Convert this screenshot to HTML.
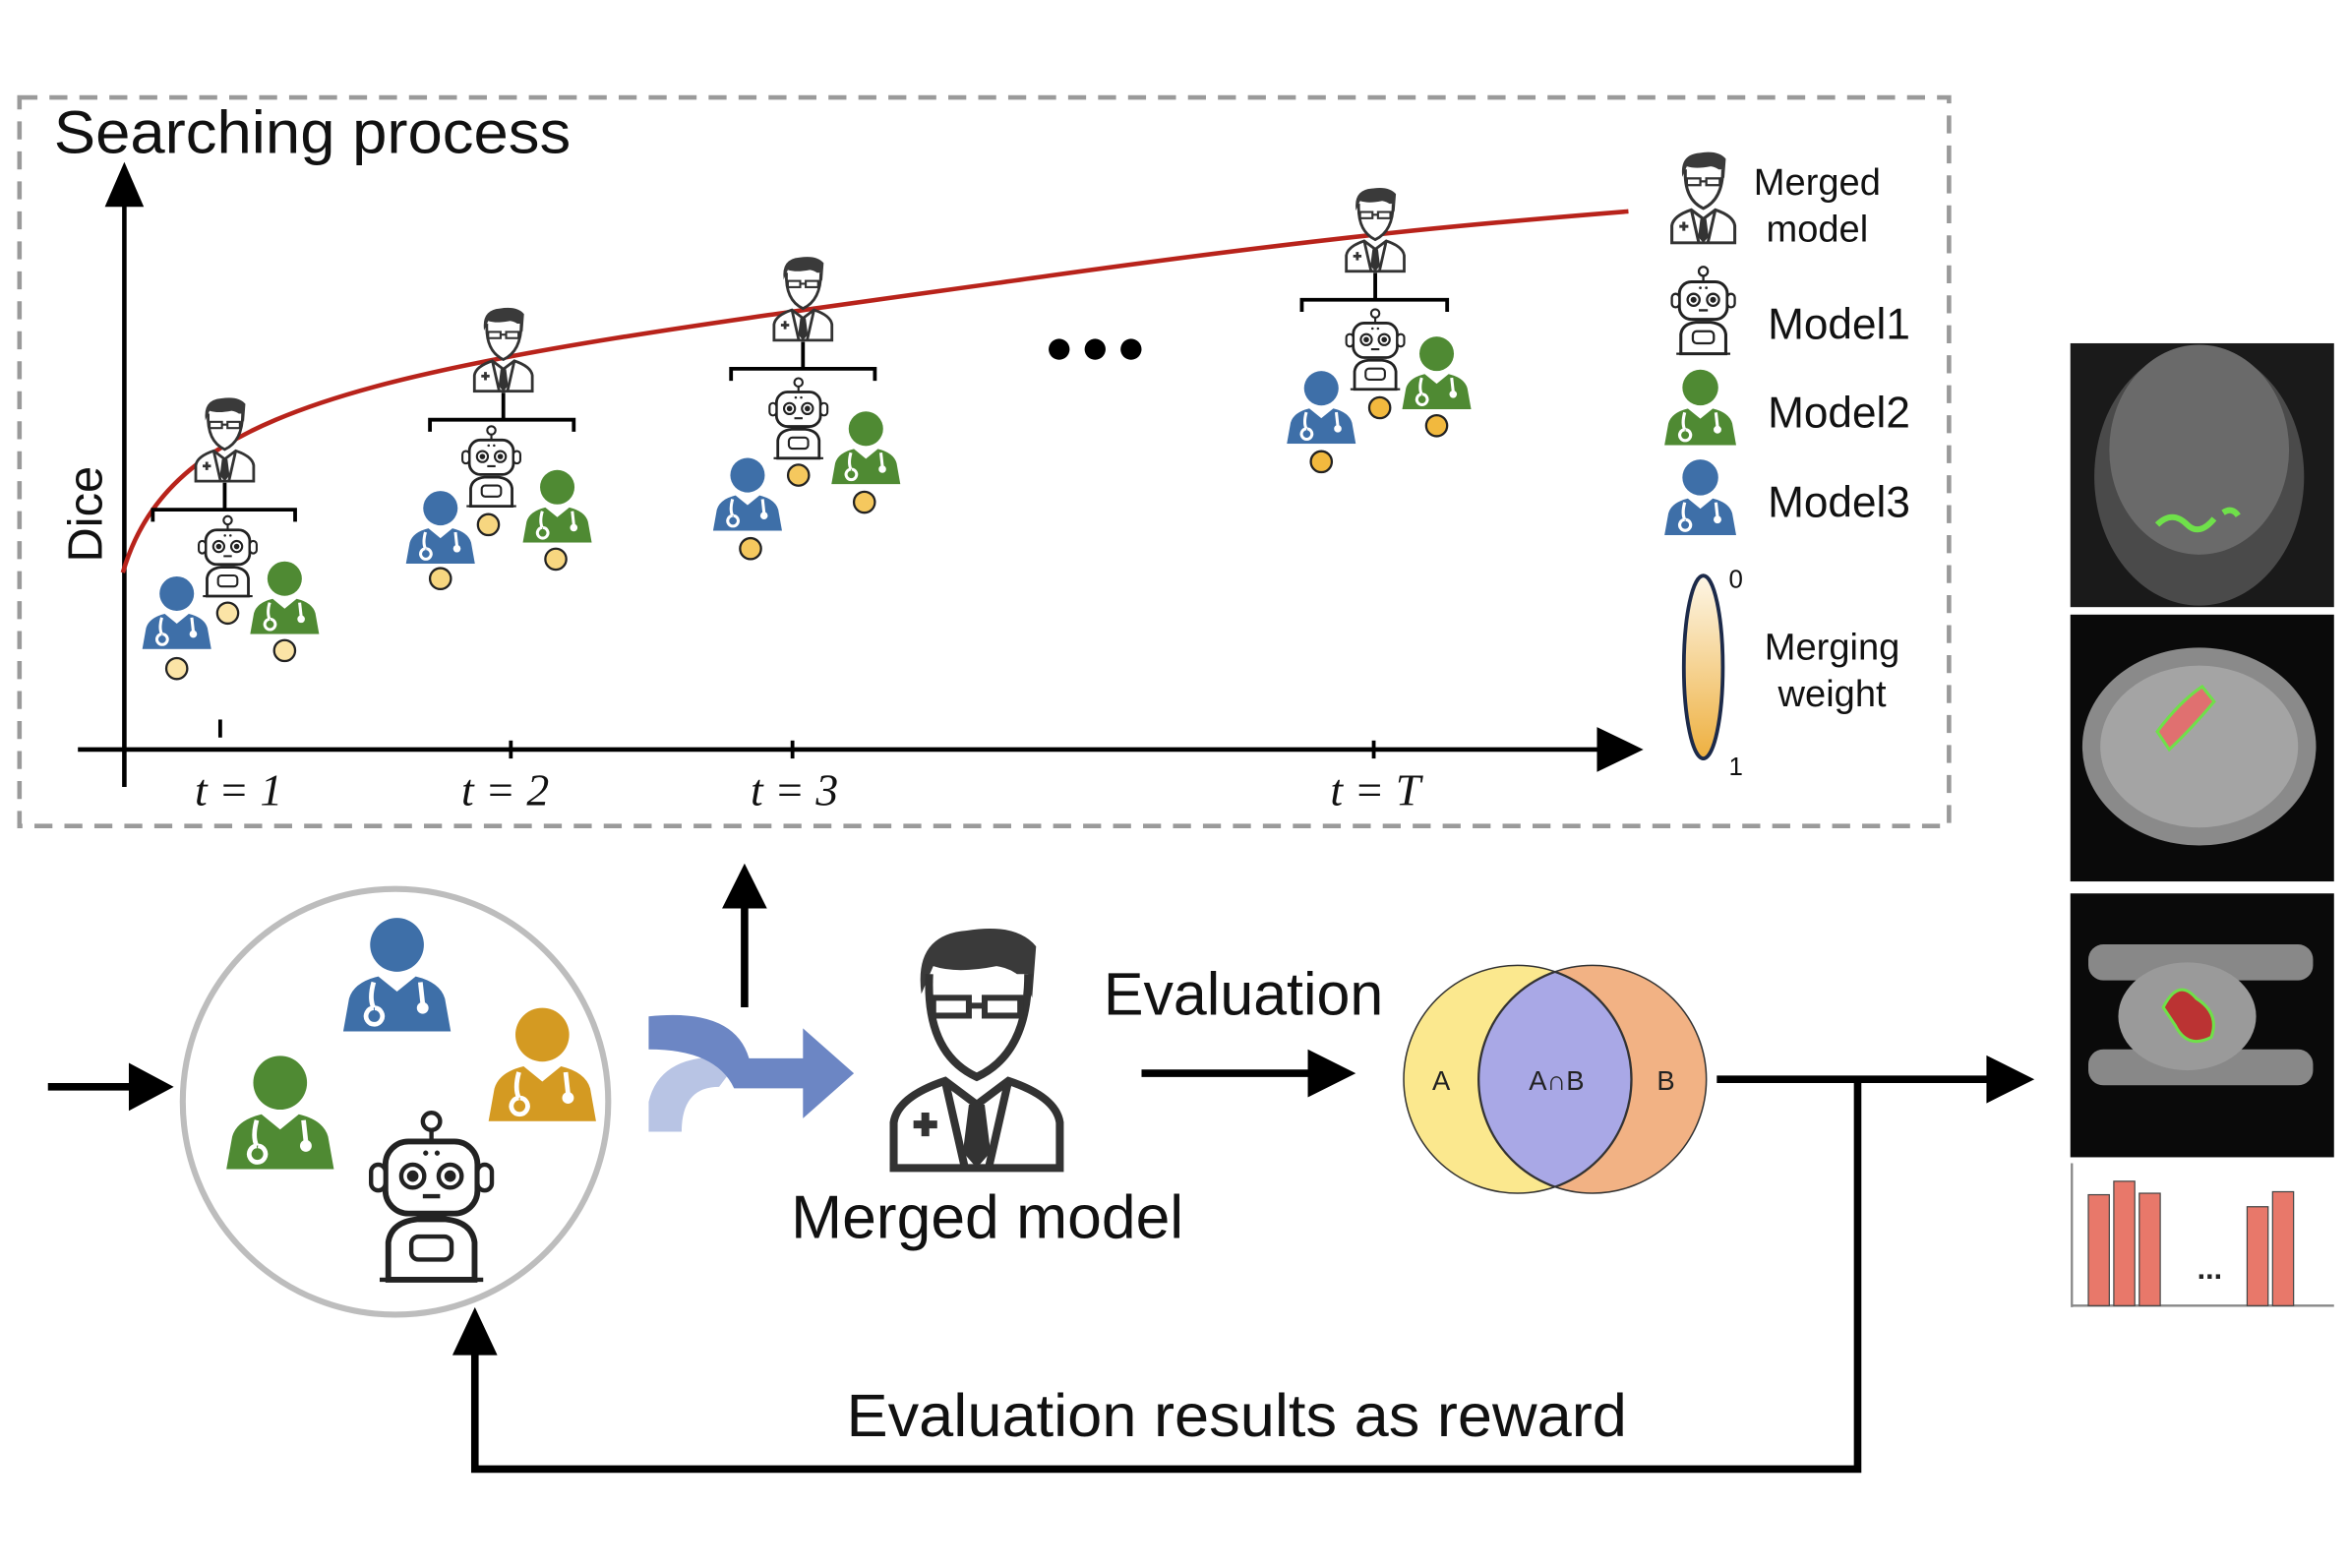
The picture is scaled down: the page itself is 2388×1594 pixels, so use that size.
<!DOCTYPE html>
<html><head><meta charset="utf-8"><style>
html,body{margin:0;padding:0;background:#fff;}
svg{display:block;}
</style></head><body>
<svg width="2388" height="1594" viewBox="0 0 1568 1046" preserveAspectRatio="none" xmlns="http://www.w3.org/2000/svg" font-family="Liberation Sans, sans-serif">
<defs>
<symbol id="person" viewBox="0 0 100 100">
<circle cx="50" cy="26" r="23" fill="currentColor"/>
<path d="M4,100 L9,72 Q13,58 34,53 L50,66 L66,53 Q87,58 91,72 L96,100 Z" fill="currentColor"/>
<path d="M30,58 Q26,72 30,80 M30,80 a7,7 0 1,0 1,0" stroke="#fff" stroke-width="4" fill="none"/>
<path d="M70,58 L72,76" stroke="#fff" stroke-width="4" fill="none"/>
<circle cx="72" cy="80" r="5" fill="#fff"/>
</symbol>
<symbol id="doc" viewBox="0 0 100 130">
<path d="M22,40 Q18,10 45,8 Q70,4 80,16 L78,42 Q74,28 60,26 Q40,30 28,26 Z" fill="#3a3a3a"/>
<path d="M26,30 Q24,70 50,82 Q76,70 76,30" fill="#fff" stroke="#333" stroke-width="4"/>
<rect x="28" y="42" width="18" height="9" fill="none" stroke="#333" stroke-width="3"/>
<rect x="54" y="42" width="18" height="9" fill="none" stroke="#333" stroke-width="3"/>
<line x1="46" y1="46" x2="54" y2="46" stroke="#333" stroke-width="3"/>
<path d="M8,128 L8,105 Q10,92 34,84 L50,96 L66,84 Q90,92 92,105 L92,128 Z" fill="#fff" stroke="#333" stroke-width="4"/>
<path d="M34,84 L44,128 M66,84 L56,128" stroke="#333" stroke-width="4"/>
<path d="M46,96 L54,96 L57,120 L50,128 L43,120 Z" fill="#333"/>
<path d="M18,106 h12 M24,100 v12" stroke="#333" stroke-width="4"/>
</symbol>
<symbol id="robot" viewBox="0 0 100 120">
<circle cx="50" cy="8" r="6" fill="#fff" stroke="#222" stroke-width="3"/>
<line x1="50" y1="14" x2="50" y2="22" stroke="#222" stroke-width="3"/>
<rect x="18" y="22" width="64" height="50" rx="16" fill="#fff" stroke="#222" stroke-width="4"/>
<rect x="8" y="38" width="10" height="18" rx="5" fill="#fff" stroke="#222" stroke-width="3"/>
<rect x="82" y="38" width="10" height="18" rx="5" fill="#fff" stroke="#222" stroke-width="3"/>
<circle cx="37" cy="46" r="8" fill="#fff" stroke="#222" stroke-width="3"/><circle cx="37" cy="46" r="4" fill="#222"/>
<circle cx="63" cy="46" r="8" fill="#fff" stroke="#222" stroke-width="3"/><circle cx="63" cy="46" r="4" fill="#222"/>
<line x1="44" y1="60" x2="56" y2="60" stroke="#222" stroke-width="3"/>
<circle cx="46" cy="30" r="1.8" fill="#222"/><circle cx="54" cy="30" r="1.8" fill="#222"/>
<path d="M20,118 L20,92 Q22,78 40,76 L60,76 Q78,78 80,92 L80,118 Z" fill="#fff" stroke="#222" stroke-width="4"/>
<rect x="36" y="88" width="28" height="16" rx="5" fill="none" stroke="#222" stroke-width="3"/>
<line x1="14" y1="118" x2="86" y2="118" stroke="#222" stroke-width="3"/>
</symbol>
<linearGradient id="wg" x1="0" y1="0" x2="0" y2="1"><stop offset="0" stop-color="#fdf6e6"/><stop offset="1" stop-color="#eeb040"/></linearGradient>
</defs>

<rect x="13" y="65" width="1288" height="486" fill="none" stroke="#9a9a9a" stroke-width="3" stroke-dasharray="12,8"/>
<text x="36" y="102" font-size="40" fill="#111" textLength="345" lengthAdjust="spacingAndGlyphs">Searching process</text>

<line x1="83" y1="525" x2="83" y2="135" stroke="#000" stroke-width="3"/>
<path d="M83,108 L70,138 L96,138 Z" fill="#000"/>
<line x1="52" y1="500" x2="1070" y2="500" stroke="#000" stroke-width="3"/>
<path d="M1097,500 L1066,485 L1066,515 Z" fill="#000"/>
<line x1="147" y1="480" x2="147" y2="492" stroke="#000" stroke-width="2.5"/>
<line x1="341" y1="494" x2="341" y2="506" stroke="#000" stroke-width="2.5"/>
<line x1="529" y1="494" x2="529" y2="506" stroke="#000" stroke-width="2.5"/>
<line x1="917" y1="494" x2="917" y2="506" stroke="#000" stroke-width="2.5"/>
<g font-family="Liberation Serif, serif" font-style="italic" font-size="30" fill="#111">
<text x="130" y="537">t = 1</text><text x="308" y="537">t = 2</text><text x="501" y="537">t = 3</text><text x="888" y="537">t = T</text>
</g>
<text x="0" y="0" font-size="32" fill="#111" transform="translate(68,375) rotate(-90)">Dice</text>

<path d="M82,382 C100,320 150,285 250,258 S500,212 700,184 S1000,148 1087,141" fill="none" stroke="#b8231b" stroke-width="3"/>

<circle cx="707" cy="233" r="7" fill="#000"/><circle cx="731" cy="233" r="7" fill="#000"/><circle cx="755" cy="233" r="7" fill="#000"/>

<g>
<use href="#doc" x="127" y="262" width="46" height="60"/>
<path d="M102,348 V340 H197 V348 M150,322 V340" fill="none" stroke="#000" stroke-width="2.5"/>
<use href="#robot" x="129" y="342" width="46" height="58"/>
<use href="#person" x="93" y="383" width="50" height="50" style="color:#3e6fa8"/>
<use href="#person" x="165" y="373" width="50" height="50" style="color:#4f8a33"/>
<circle cx="118" cy="446" r="7" fill="#fbe4a6" stroke="#222" stroke-width="1.5"/>
<circle cx="152" cy="409" r="7" fill="#fbe4a6" stroke="#222" stroke-width="1.5"/>
<circle cx="190" cy="434" r="7" fill="#fbe4a6" stroke="#222" stroke-width="1.5"/>
</g>
<g>
<use href="#doc" x="313" y="202" width="46" height="60"/>
<path d="M287,288 V280 H383 V288 M336,262 V280" fill="none" stroke="#000" stroke-width="2.5"/>
<use href="#robot" x="305" y="282" width="46" height="58"/>
<use href="#person" x="269" y="326" width="50" height="50" style="color:#3e6fa8"/>
<use href="#person" x="347" y="312" width="50" height="50" style="color:#4f8a33"/>
<circle cx="294" cy="386" r="7" fill="#f7d680" stroke="#222" stroke-width="1.5"/>
<circle cx="326" cy="350" r="7" fill="#f7d680" stroke="#222" stroke-width="1.5"/>
<circle cx="371" cy="373" r="7" fill="#f7d680" stroke="#222" stroke-width="1.5"/>
</g>
<g>
<use href="#doc" x="513" y="168" width="46" height="60"/>
<path d="M488,254 V246 H584 V254 M536,228 V246" fill="none" stroke="#000" stroke-width="2.5"/>
<use href="#robot" x="510" y="250" width="46" height="58"/>
<use href="#person" x="474" y="304" width="50" height="50" style="color:#3e6fa8"/>
<use href="#person" x="553" y="273" width="50" height="50" style="color:#4f8a33"/>
<circle cx="501" cy="366" r="7" fill="#f5c85e" stroke="#222" stroke-width="1.5"/>
<circle cx="533" cy="317" r="7" fill="#f5c85e" stroke="#222" stroke-width="1.5"/>
<circle cx="577" cy="335" r="7" fill="#f5c85e" stroke="#222" stroke-width="1.5"/>
</g>
<g>
<use href="#doc" x="895" y="122" width="46" height="60"/>
<path d="M869,208 V200 H966 V208 M918,182 V200" fill="none" stroke="#000" stroke-width="2.5"/>
<use href="#robot" x="895" y="204" width="46" height="58"/>
<use href="#person" x="857" y="246" width="50" height="50" style="color:#3e6fa8"/>
<use href="#person" x="934" y="223" width="50" height="50" style="color:#4f8a33"/>
<circle cx="882" cy="308" r="7" fill="#f2b93e" stroke="#222" stroke-width="1.5"/>
<circle cx="921" cy="272" r="7" fill="#f2b93e" stroke="#222" stroke-width="1.5"/>
<circle cx="959" cy="284" r="7" fill="#f2b93e" stroke="#222" stroke-width="1.5"/>
</g>

<use href="#doc" x="1112" y="98" width="50" height="65"/>
<text x="1213" y="130" font-size="25" text-anchor="middle" fill="#111">Merged</text>
<text x="1213" y="161" font-size="25" text-anchor="middle" fill="#111">model</text>
<use href="#robot" x="1112" y="176" width="50" height="62"/>
<text x="1180" y="226" font-size="29" fill="#111">Model1</text>
<use href="#person" x="1109" y="245" width="52" height="52" style="color:#4f8a33"/>
<text x="1180" y="285" font-size="29" fill="#111">Model2</text>
<use href="#person" x="1109" y="305" width="52" height="52" style="color:#3e6fa8"/>
<text x="1180" y="345" font-size="29" fill="#111">Model3</text>
<ellipse cx="1137" cy="445" rx="13" ry="61" fill="url(#wg)" stroke="#1c2a4a" stroke-width="2.5"/>
<text x="1154" y="392" font-size="17" fill="#111">0</text>
<text x="1154" y="517" font-size="17" fill="#111">1</text>
<text x="1223" y="440" font-size="25" text-anchor="middle" fill="#111">Merging</text>
<text x="1223" y="471" font-size="25" text-anchor="middle" fill="#111">weight</text>

<line x1="32" y1="725" x2="92" y2="725" stroke="#000" stroke-width="5"/>
<path d="M116,725 L86,709 L86,741 Z" fill="#000"/>
<circle cx="264" cy="735" r="142" fill="#fff" stroke="#bdbdbd" stroke-width="4"/>
<use href="#person" x="226" y="610" width="78" height="78" style="color:#3e6fa8"/>
<use href="#person" x="148" y="702" width="78" height="78" style="color:#4f8a33"/>
<use href="#person" x="323" y="670" width="78" height="78" style="color:#d49a22"/>
<use href="#robot" x="240" y="740" width="96" height="116"/>

<path d="M433,755 L433,735 Q440,705 480,705 L495,705 L480,725 Q455,725 455,755 Z" fill="#b8c4e4"/>
<path d="M433,678 Q490,672 500,706 L536,706 L536,686 L570,716 L536,746 L536,726 L490,726 Q478,700 433,700 Z" fill="#6c86c4"/>

<line x1="497" y1="672" x2="497" y2="600" stroke="#000" stroke-width="5"/>
<path d="M497,576 L482,606 L512,606 Z" fill="#000"/>

<use href="#doc" x="586" y="610" width="132" height="172"/>
<text x="659" y="826" font-size="41" text-anchor="middle" fill="#111">Merged model</text>
<text x="830" y="677" font-size="40" text-anchor="middle" fill="#111">Evaluation</text>
<line x1="762" y1="716" x2="880" y2="716" stroke="#000" stroke-width="5"/>
<path d="M905,716 L873,700 L873,732 Z" fill="#000"/>

<circle cx="1013" cy="720" r="76" fill="#fbe88e" stroke="#333" stroke-width="1"/>
<circle cx="1063" cy="720" r="76" fill="#f2b284" stroke="#333" stroke-width="1"/>
<clipPath id="cA"><circle cx="1013" cy="720" r="76"/></clipPath>
<circle cx="1063" cy="720" r="76" fill="#a9a8e6" clip-path="url(#cA)"/>
<circle cx="1063" cy="720" r="76" fill="none" stroke="#333" stroke-width="1.5" clip-path="url(#cA)"/>
<clipPath id="cB"><circle cx="1063" cy="720" r="76"/></clipPath>
<circle cx="1013" cy="720" r="76" fill="none" stroke="#333" stroke-width="1.5" clip-path="url(#cB)"/>
<text x="962" y="727" font-size="18" text-anchor="middle" fill="#222">A</text>
<text x="1039" y="727" font-size="18" text-anchor="middle" fill="#222">A∩B</text>
<text x="1112" y="727" font-size="18" text-anchor="middle" fill="#222">B</text>

<path d="M1146,720 H1330" stroke="#000" stroke-width="5"/>
<path d="M1358,720 L1326,704 L1326,736 Z" fill="#000"/>
<path d="M1240,720 V980 H317 V900" fill="none" stroke="#000" stroke-width="5"/>
<path d="M317,872 L302,904 L332,904 Z" fill="#000"/>
<text x="565" y="958" font-size="40" fill="#111" textLength="521" lengthAdjust="spacingAndGlyphs">Evaluation results as reward</text>

<rect x="1382" y="229" width="176" height="176" fill="#1a1a1a"/>
<ellipse cx="1468" cy="318" rx="70" ry="86" fill="#4a4a4a"/>
<ellipse cx="1468" cy="300" rx="60" ry="70" fill="#6a6a6a"/>
<path d="M1440,350 q10,-10 20,0 q8,8 18,-4 M1484,342 q6,-4 10,2" stroke="#6fe04a" stroke-width="4" fill="none"/>
<rect x="1382" y="410" width="176" height="178" fill="#0a0a0a"/>
<ellipse cx="1468" cy="498" rx="78" ry="66" fill="#8a8a8a"/>
<ellipse cx="1468" cy="498" rx="66" ry="54" fill="#a4a4a4"/>
<path d="M1440,488 q15,-20 30,-30 l8,10 q-15,18 -30,32 z" fill="#e07070" stroke="#6fe04a" stroke-width="2"/>
<rect x="1382" y="596" width="176" height="176" fill="#0a0a0a"/>
<rect x="1394" y="630" width="150" height="24" rx="10" fill="#888"/>
<rect x="1394" y="700" width="150" height="24" rx="10" fill="#888"/>
<ellipse cx="1460" cy="678" rx="46" ry="36" fill="#9a9a9a"/>
<path d="M1444,672 q10,-20 22,-6 q16,10 10,26 q-16,8 -24,-8 z" fill="#b33" stroke="#6fe04a" stroke-width="2"/>
<line x1="1383" y1="776" x2="1383" y2="872" stroke="#888" stroke-width="1.5"/>
<line x1="1383" y1="871" x2="1558" y2="871" stroke="#888" stroke-width="1.5"/>
<g fill="#e8786a" stroke="#444" stroke-width="0.8">
<rect x="1394" y="797" width="14" height="74"/><rect x="1411" y="788" width="14" height="83"/><rect x="1428" y="796" width="14" height="75"/>
<rect x="1500" y="805" width="14" height="66"/><rect x="1517" y="795" width="14" height="76"/>
</g>
<text x="1475" y="853" font-size="20" font-weight="bold" text-anchor="middle" fill="#222">...</text>
</svg>
</body></html>
